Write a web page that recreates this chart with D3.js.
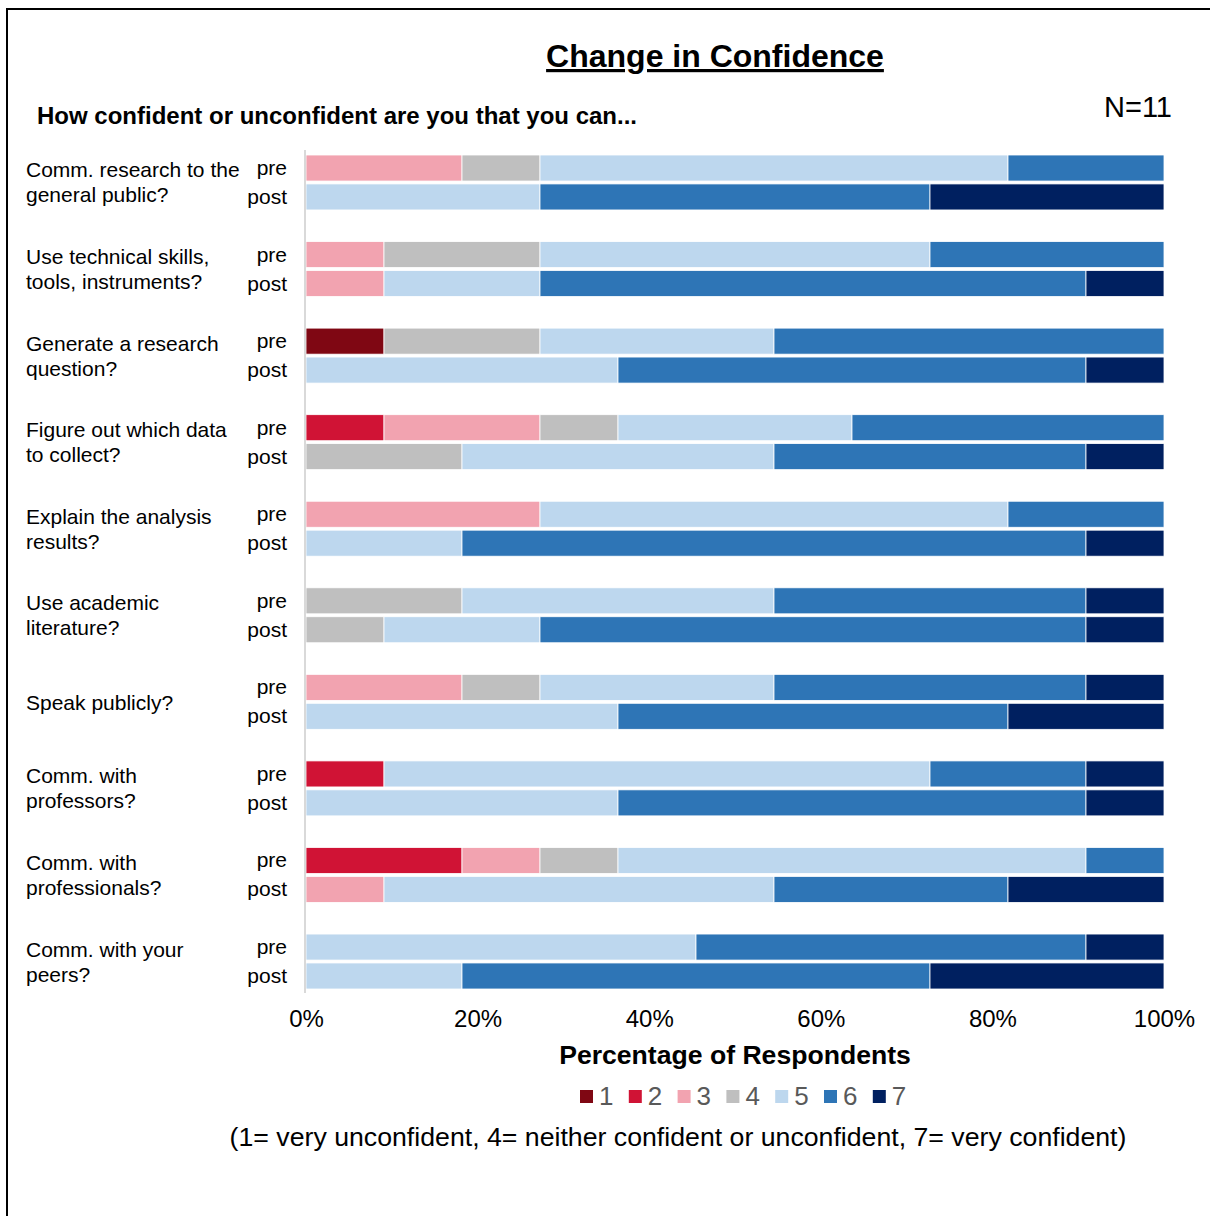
<!DOCTYPE html>
<meta charset="utf-8">
<style>
body { margin: 0; background: #fff; }
svg text { font-family: "Liberation Sans", Arial, sans-serif; fill: #000; }
.title { font-size: 32px; font-weight: bold; text-decoration: underline; }
.subtitle { font-size: 24px; font-weight: bold; }
.qlabel, .tlabel { font-size: 21px; }
.tick text { font-size: 24px; }
.legend text { font-size: 26px; fill: #595959; }
</style>
<svg width="1210" height="1216"></svg>
<script src="https://cdnjs.cloudflare.com/ajax/libs/d3/7.8.5/d3.min.js"></script>
<script>

var N = 11;
var levels = ["1", "2", "3", "4", "5", "6", "7"];
var colors = ["#7f0713", "#d01335", "#f2a3b0", "#bfbfbf", "#bdd7ee", "#2e75b6", "#002060"];
var questions = [
  ["Comm. research to the", "general public?"],
  ["Use technical skills,", "tools, instruments?"],
  ["Generate a research", "question?"],
  ["Figure out which data", "to collect?"],
  ["Explain the analysis", "results?"],
  ["Use academic", "literature?"],
  ["Speak publicly?"],
  ["Comm. with", "professors?"],
  ["Comm. with", "professionals?"],
  ["Comm. with your", "peers?"]
];
// number of respondents at each rating 1..7
var preCounts = [
  [0, 0, 2, 1, 6, 2, 0],
  [0, 0, 1, 2, 5, 3, 0],
  [1, 0, 0, 2, 3, 5, 0],
  [0, 1, 2, 1, 3, 4, 0],
  [0, 0, 3, 0, 6, 2, 0],
  [0, 0, 0, 2, 4, 4, 1],
  [0, 0, 2, 1, 3, 4, 1],
  [0, 1, 0, 0, 7, 2, 1],
  [0, 2, 1, 1, 6, 1, 0],
  [0, 0, 0, 0, 5, 5, 1]
];
var postCounts = [
  [0, 0, 0, 0, 3, 5, 3],
  [0, 0, 1, 0, 2, 7, 1],
  [0, 0, 0, 0, 4, 6, 1],
  [0, 0, 0, 2, 4, 4, 1],
  [0, 0, 0, 0, 2, 8, 1],
  [0, 0, 0, 1, 2, 7, 1],
  [0, 0, 0, 0, 4, 5, 2],
  [0, 0, 0, 0, 4, 6, 1],
  [0, 0, 1, 0, 5, 3, 2],
  [0, 0, 0, 0, 2, 6, 3]
];
var times = ["pre", "post"];
var tickValues = [0, 0.2, 0.4, 0.6, 0.8, 1];

var svg = d3.select("svg");

// frame
svg.append("path")
    .attr("d", "M7,1216V9H1210")
    .attr("fill", "none")
    .attr("stroke", "#000")
    .attr("stroke-width", 2);

var rows = [];
questions.forEach(function(q, i) {
  [preCounts[i], postCounts[i]].forEach(function(c, t) {
    var r = { q: i, time: times[t] };
    levels.forEach(function(l, k) { r[l] = c[k] / N; });
    rows.push(r);
  });
});

var x = d3.scaleLinear().domain([0, 1]).range([306, 1164]);
var y = d3.scaleBand().domain(d3.range(questions.length))
    .range([155, 989]).paddingInner(0.365).paddingOuter(0);
var yi = d3.scaleBand().domain(times).range([0, y.bandwidth()]).paddingInner(0.1);
var color = d3.scaleOrdinal().domain(levels).range(colors);

var series = d3.stack().keys(levels)(rows);

svg.append("g").selectAll("g")
  .data(series)
  .enter().append("g")
    .attr("fill", function(d) { return color(d.key); })
  .selectAll("rect")
  .data(function(d) { return d; })
  .enter().append("rect")
    .attr("x", function(d) { return x(d[0]); })
    .attr("y", function(d) { return y(d.data.q) + yi(d.data.time); })
    .attr("width", function(d) { return x(d[1]) - x(d[0]); })
    .attr("height", yi.bandwidth())
    .attr("stroke", "#fff")
    .attr("stroke-width", 0.8);

// vertical axis line
svg.append("line")
    .attr("x1", x(0) - 1).attr("x2", x(0) - 1)
    .attr("y1", 150).attr("y2", 993)
    .attr("stroke", "#d9d9d9")
    .attr("stroke-width", 2);

// x axis labels
var xAxis = svg.append("g")
    .attr("transform", "translate(0,1010)")
    .call(d3.axisBottom(x).tickValues(tickValues).tickFormat(d3.format(".0%")).tickSize(0).tickPadding(0));
xAxis.select(".domain").remove();
xAxis.selectAll("text").attr("dy", "0.71em").attr("fill", "#000");

// question labels
var ql = svg.append("g").selectAll("text")
  .data(questions)
  .enter().append("text")
    .attr("class", "qlabel")
    .attr("x", 26)
    .attr("y", function(d, i) {
      var c = y(i) + y.bandwidth() / 2;
      return d.length === 1 ? c + 8 : c - 5;
    });
ql.selectAll("tspan")
  .data(function(d) { return d; })
  .enter().append("tspan")
    .attr("x", 26)
    .attr("dy", function(d, i) { return i === 0 ? 0 : 25; })
    .text(function(d) { return d; });

// pre / post labels
svg.append("g").selectAll("text")
  .data(rows)
  .enter().append("text")
    .attr("class", "tlabel")
    .attr("x", 287)
    .attr("y", function(d) { return y(d.q) + yi(d.time) + yi.bandwidth() / 2 + 7; })
    .attr("text-anchor", "end")
    .text(function(d) { return d.time; });

// titles
svg.append("text").attr("class", "title")
    .attr("x", 715).attr("y", 67).attr("text-anchor", "middle")
    .text("Change in Confidence");
svg.append("text").attr("class", "subtitle")
    .attr("x", 37).attr("y", 124)
    .text("How confident or unconfident are you that you can...");
svg.append("text")
    .attr("x", 1172).attr("y", 117).attr("text-anchor", "end")
    .style("font-size", "29px")
    .text("N=11");

svg.append("text")
    .attr("x", 735).attr("y", 1064).attr("text-anchor", "middle")
    .style("font-size", "26.6px").style("font-weight", "bold")
    .text("Percentage of Respondents");

// legend
var legend = svg.append("g").attr("class", "legend")
  .selectAll("g")
  .data(levels)
  .enter().append("g")
    .attr("transform", function(d, i) { return "translate(" + (580 + i * 48.8) + ",1090)"; });
legend.append("rect")
    .attr("width", 13).attr("height", 13)
    .attr("fill", function(d) { return color(d); });
legend.append("text")
    .attr("x", 19).attr("y", 15)
    .text(function(d) { return d; });

svg.append("text")
    .attr("x", 678).attr("y", 1146).attr("text-anchor", "middle")
    .style("font-size", "26.7px")
    .text("(1= very unconfident, 4= neither confident or unconfident, 7= very confident)");

</script>
